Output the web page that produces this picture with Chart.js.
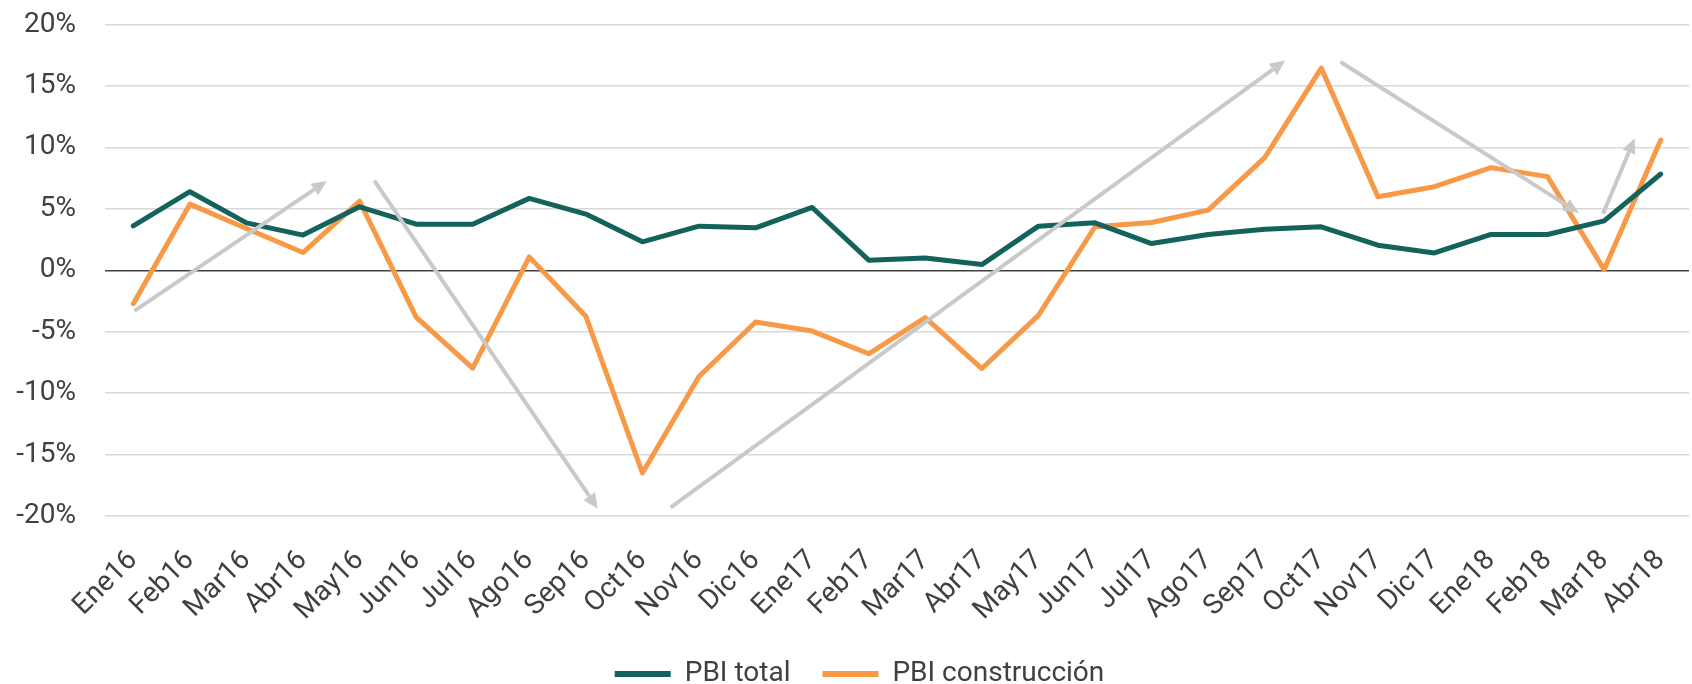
<!DOCTYPE html>
<html>
<head>
<meta charset="utf-8">
<script src="https://cdn.jsdelivr.net/npm/chart.js@4.4.1/dist/chart.umd.min.js"></script>
<style>
  html, body { margin: 0; padding: 0; background: #ffffff; }
  #wrap { width: 1692px; height: 684px; }
</style>
</head>
<body>
<div id="wrap"><canvas id="c" width="1692" height="684"></canvas></div>
<script>
const categories = ['Ene16','Feb16','Mar16','Abr16','May16','Jun16','Jul16','Ago16','Sep16','Oct16','Nov16','Dic16',
  'Ene17','Feb17','Mar17','Abr17','May17','Jun17','Jul17','Ago17','Sep17','Oct17','Nov17','Dic17',
  'Ene18','Feb18','Mar18','Abr18'];
const pbiTotal = [3.61,6.39,3.86,2.86,5.16,3.75,3.75,5.85,4.57,2.31,3.59,3.45,
  5.11,0.82,1.00,0.46,3.59,3.86,2.17,2.91,3.34,3.54,2.04,1.41,
  2.91,2.91,4.02,7.83];
const pbiConstruccion = [-2.72,5.38,3.40,1.44,5.63,-3.81,-7.97,1.09,-3.75,-16.5,-8.65,-4.21,
  -4.95,-6.80,-3.86,-8.00,-3.67,3.54,3.89,4.89,9.16,16.45,5.98,6.80,
  8.35,7.62,0.05,10.60];
const yTicks = [-20,-15,-10,-5,0,5,10,15,20];
const seriesNames = ['PBI total','PBI construcción'];

// trend arrows (category index position, value in %)
const arrowFromIdx = [0.02, 4.26, 9.50, 21.34, 25.98];
const arrowFromVal = [-3.3, 7.3, -19.3, 16.95, 4.6];
const arrowToIdx   = [3.42, 8.21, 20.36, 25.55, 26.54];
const arrowToVal   = [7.26, -19.4, 17.07, 4.67, 10.74];

const FONT = "Roboto, 'Open Sans', sans-serif";
const TEXT = '#404040';
const LEGEND_SHIFT = 15;

const arrowPlugin = {
  id: 'trendArrows',
  afterLayout(chart) {
    if (chart.legend) { chart.legend.left += LEGEND_SHIFT; chart.legend.right += LEGEND_SHIFT; }
  },
  afterDatasetsDraw(chart) {
    const ctx = chart.ctx, xs = chart.scales.x, ys = chart.scales.y;
    ctx.save();
    ctx.strokeStyle = '#c9c9c9';
    ctx.fillStyle = '#c9c9c9';
    ctx.lineWidth = 4;
    ctx.lineCap = 'butt';
    for (let i = 0; i < arrowFromIdx.length; i++) {
      const x1 = xs.getPixelForValue(arrowFromIdx[i]);
      const y1 = ys.getPixelForValue(arrowFromVal[i]);
      const x2 = xs.getPixelForValue(arrowToIdx[i]);
      const y2 = ys.getPixelForValue(arrowToVal[i]);
      const ang = Math.atan2(y2 - y1, x2 - x1);
      const headLen = 15, headW = 7;
      const bx = x2 - headLen * Math.cos(ang), by = y2 - headLen * Math.sin(ang);
      ctx.beginPath();
      ctx.moveTo(x1, y1);
      ctx.lineTo(bx, by);
      ctx.stroke();
      ctx.beginPath();
      ctx.moveTo(x2, y2);
      ctx.lineTo(bx + headW * Math.sin(ang), by - headW * Math.cos(ang));
      ctx.lineTo(bx - headW * Math.sin(ang), by + headW * Math.cos(ang));
      ctx.closePath();
      ctx.fill();
    }
    ctx.restore();
  }
};

new Chart(document.getElementById('c'), {
  type: 'line',
  data: {
    labels: categories,
    datasets: [
      { label: seriesNames[0], data: pbiTotal, borderColor: '#13625c', backgroundColor: '#13625c',
        borderWidth: 5, pointRadius: 0, tension: 0, borderJoinStyle: 'round', borderCapStyle: 'round' },
      { label: seriesNames[1], data: pbiConstruccion, borderColor: '#f79946', backgroundColor: '#f79946',
        borderWidth: 5, pointRadius: 0, tension: 0, borderJoinStyle: 'round', borderCapStyle: 'round' }
    ]
  },
  options: {
    responsive: false,
    animation: false,
    layout: { padding: { left: 0, right: 3, top: 24.5, bottom: -14 } },
    scales: {
      x: {
        offset: true,
        afterFit(scale) { scale.height = 112; scale.paddingLeft = 0; scale.paddingRight = 0; },
        grid: { display: false, drawTicks: false },
        border: { display: false },
        ticks: {
          autoSkip: false, maxRotation: 45, minRotation: 45, padding: 28,
          color: TEXT, font: { family: FONT, size: 28 }
        }
      },
      y: {
        min: -20, max: 20,
        afterBuildTicks(scale) { scale.ticks = yTicks.map(v => ({ value: v })); },
        afterFit(scale) { scale.width = 105; scale.paddingTop = 0; scale.paddingBottom = 0; },
        grid: {
          drawTicks: false,
          color: c => (c.tick && c.tick.value === 0) ? '#404040' : '#d9d9d9',
          lineWidth: 1.5
        },
        border: { display: false },
        ticks: {
          padding: 29, color: TEXT, font: { family: FONT, size: 28 },
          callback: v => v + '%'
        }
      }
    },
    plugins: {
      legend: {
        position: 'bottom',
        labels: {
          color: TEXT, font: { family: FONT, size: 28 },
          boxWidth: 56, boxHeight: 6, padding: 32,
          generateLabels: chart => chart.data.datasets.map((ds, i) => ({
            text: ds.label, fillStyle: ds.borderColor, strokeStyle: ds.borderColor,
            lineWidth: 0, hidden: false, datasetIndex: i, fontColor: TEXT
          }))
        }
      },
      tooltip: { enabled: false }
    }
  },
  plugins: [arrowPlugin]
});
</script>
</body>
</html>
